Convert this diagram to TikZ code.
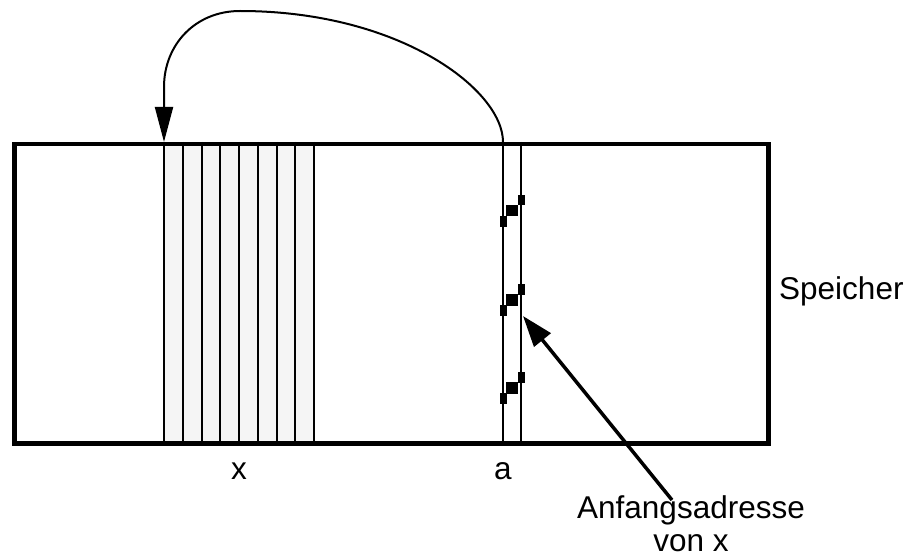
\documentclass[tikz,border=0pt]{standalone}
\usepackage{fontspec}
\setmainfont{Liberation Sans}
\usetikzlibrary{arrows.meta}
\begin{document}
\begin{tikzpicture}[x=1pt,y=-1pt,
  frame/.style={line width=4.5pt},
  cellline/.style={line width=2pt},
  blk/.style={fill=black,draw=none},
  lbl/.style={font=\fontsize{31.5}{36}\selectfont, inner sep=0pt},
  bigtip/.style={-{Triangle[length=35pt,width=18pt]}}
]
\useasboundingbox (0,0) rectangle (911,559);
% fields of x
\fill[gray!8] (164,142) rectangle (314,441);
\foreach \i in {0,...,8}{
  \draw[cellline] ({164+\i*18.75},142) -- ({164+\i*18.75},441);
}
% cell a
\draw[cellline] (503,142) -- (503,441);
\draw[cellline] (521,142) -- (521,441);
\foreach \y in {195,284,372}{
  \fill[blk] (517.5,\y) rectangle (524.5,\y+10.5);
  \fill[blk] (505.5,\y+10) rectangle (517.5,\y+21.5);
  \fill[blk] (499.5,\y+21) rectangle (506.5,\y+32);
}
% memory frame
\node[frame, draw, minimum width=754pt, minimum height=299pt, inner sep=0pt, anchor=north west] (mem) at (12,142) {};
% coordinates
\coordinate (astart) at (503,142);
\coordinate (peak) at (240,11);
\coordinate (xbend) at (164,87);
\coordinate (xstart) at (164,142);
\draw[line width=2pt, bigtip] (astart) .. controls (503,90) and (400,11) .. (peak)
   .. controls (195,11) and (164,45) .. (xbend) -- (xstart);
% labels
\node[lbl, anchor=base] (lx) at (239,479) {x};
\node[lbl, anchor=base] (la) at (503,479) {a};
\node[lbl, anchor=base west] (speicher) at (779,299) {Speicher};
\node[lbl, anchor=base] (anf) at (691,518) {Anfangsadresse};
\node[lbl, anchor=base] (von) at (691,551) {von x};
\coordinate (tip) at (523,316);
\coordinate (tail) at (672,500);
\draw[line width=3.5pt, -{Triangle[length=31pt,width=21pt]}] (tail) -- (tip);
\end{tikzpicture}
\end{document}
